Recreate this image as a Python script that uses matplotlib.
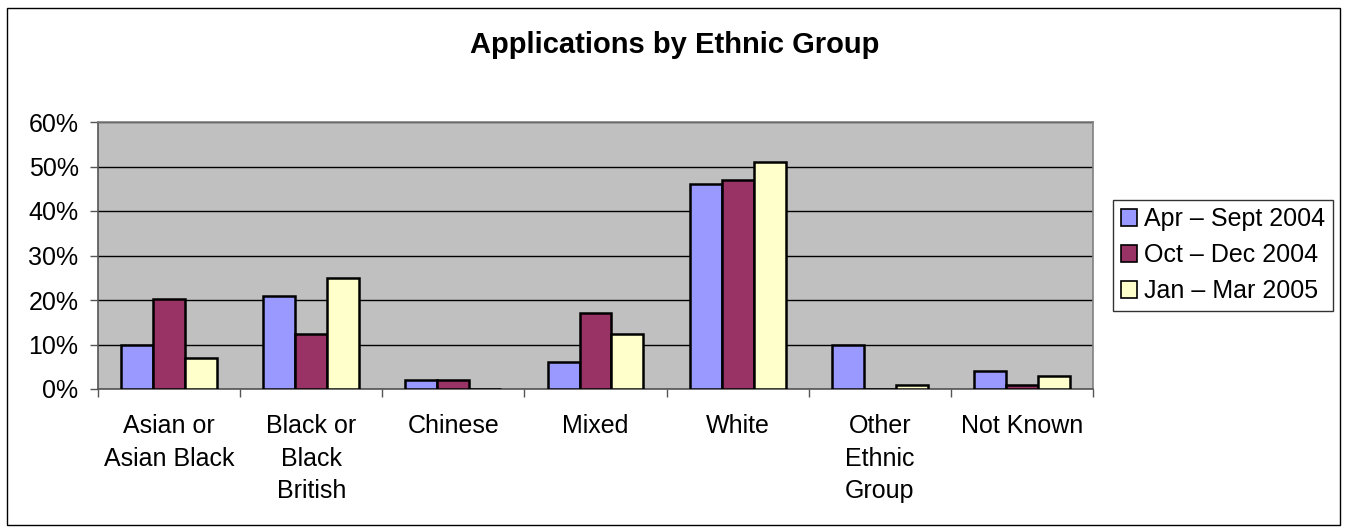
import matplotlib
matplotlib.use("Agg")
import matplotlib.pyplot as plt
import numpy as np
from matplotlib.patches import Rectangle

plt.rcParams['font.family'] = ['Liberation Sans', 'DejaVu Sans']

categories = ["Asian or\nAsian Black", "Black or\nBlack\nBritish", "Chinese", "Mixed",
              "White", "Other\nEthnic\nGroup", "Not Known"]
series_names = ["Apr \u2013 Sept 2004", "Oct \u2013 Dec 2004", "Jan \u2013 Mar 2005"]
apr_sep_2004 = [10, 21, 2, 6, 46, 10, 4]
oct_dec_2004 = [20.3, 12.4, 2, 17, 47, 0, 1]
jan_mar_2005 = [7, 25, 0, 12.4, 51, 1, 3]
yticks = [0, 10, 20, 30, 40, 50, 60]

colors = ["#9999FF", "#993366", "#FFFFCC"]

W, H = 1347, 532
fig = plt.figure(figsize=(W / 100, H / 100), dpi=100)
ax = fig.add_axes([98 / W, 1 - 389 / H, (1093 - 98) / W, (389 - 122) / H])
ax.set_facecolor("#C0C0C0")

x = np.arange(len(categories))
bw = 0.225
data = [apr_sep_2004, oct_dec_2004, jan_mar_2005]
for i, (vals, c, name) in enumerate(zip(data, colors, series_names)):
    ax.bar(x + (i - 1) * bw, vals, width=bw, color=c, edgecolor="black",
           linewidth=1.8, label=name, zorder=3)

ax.set_xlim(-0.5, len(categories) - 0.5)
ax.set_ylim(0, 60)
ax.set_yticks(yticks)
ax.set_yticklabels([f"{v}%" for v in yticks], fontsize=18)
ax.yaxis.grid(True, color="black", linewidth=1.0, zorder=1)
ax.set_axisbelow(True)

ax.set_xticks(x)
ax.set_xticklabels(categories, fontsize=18, linespacing=1.45, va="top")
ax.tick_params(axis="x", which="major", length=0, pad=18)
ax.set_xticks(np.arange(-0.5, len(categories), 1), minor=True)
ax.tick_params(axis="x", which="minor", length=6, width=1, color="#555555", direction="out")
ax.tick_params(axis="y", length=6, width=1, color="#555555", direction="out", pad=8)

for s in ["top", "right"]:
    ax.spines[s].set_color("#808080")
    ax.spines[s].set_linewidth(1.2)
for s in ["left", "bottom"]:
    ax.spines[s].set_color("#555555")
    ax.spines[s].set_linewidth(1.2)

fig.text(675 / W, 1 - 45 / H, "Applications by Ethnic Group", ha="center", va="center",
         fontsize=21, fontweight="bold")

leg = fig.legend(loc="center left", bbox_to_anchor=(1113 / W, 1 - 255 / H), fontsize=18,
                 frameon=True, fancybox=False, shadow=False, handlelength=0.65,
                 handleheight=0.65, handletextpad=0.3, borderpad=0.3, labelspacing=0.48,
                 borderaxespad=0)
leg.get_frame().set_edgecolor("black")
leg.get_frame().set_linewidth(1.0)
for p in leg.get_patches():
    p.set_linewidth(1.2)

fig.patches.append(Rectangle((7 / W, 7 / H), (1340 - 7) / W, (524 - 7) / H,
                             transform=fig.transFigure, fill=False, edgecolor="black",
                             linewidth=1.0))

fig.savefig("out.png", dpi=100)
